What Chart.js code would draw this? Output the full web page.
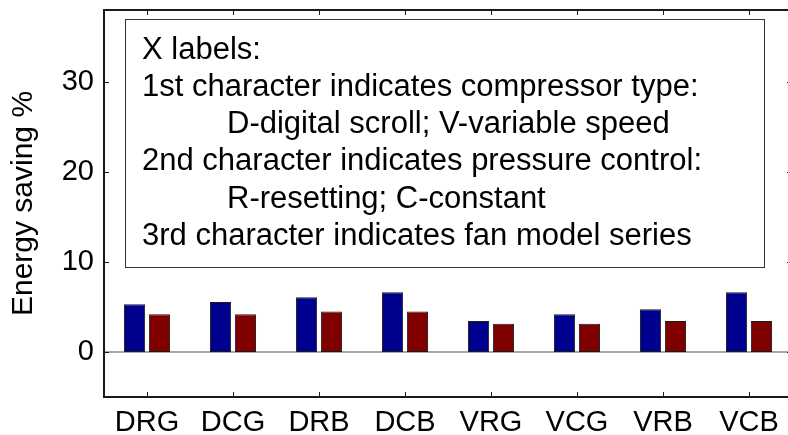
<!DOCTYPE html>
<html lang="en">
<head>
    <meta charset="utf-8">
    <script src="https://cdn.jsdelivr.net/npm/chart.js@4/dist/chart.umd.min.js"></script>
    <style>
        html, body { margin: 0; padding: 0; background: #fff; overflow: hidden; width: 788px; height: 435px; }
        .chart-container { position: relative; width: 800px; height: 435px; }
    </style>
</head>
<body>

<div class="chart-container">
    <canvas id="myChart" width="800" height="435"></canvas>
</div>

<script>
    // configurations: compressor type / pressure control / fan model series
    var categories = ["DRG", "DCG", "DRB", "DCB", "VRG", "VCG", "VRB", "VCB"];
    var seriesBlue = [5.3, 5.56, 6.08, 6.63, 3.45, 4.2, 4.75, 6.63];
    var seriesRed  = [4.2, 4.2, 4.5, 4.5, 3.15, 3.15, 3.45, 3.45];
    var yTicks = [0, 10, 20, 30];
    var yTitle = "Energy saving %";

    // lines of the explanation box (indent = second level)
    var noteLines = [
        {text: "X labels:", indent: false},
        {text: "1st character indicates compressor type:", indent: false},
        {text: "D-digital scroll; V-variable speed", indent: true},
        {text: "2nd character indicates pressure control:", indent: false},
        {text: "R-resetting; C-constant", indent: true},
        {text: "3rd character indicates fan model series", indent: false}
    ];

    var FONT = "'Liberation Sans', Arial, Helvetica, sans-serif";

    // no extra room for the outer tick labels, the plot box is fixed
    function noEdgePadding(scale) {
        scale.paddingTop = 0;
        scale.paddingBottom = 0;
        scale.paddingLeft = 0;
        scale.paddingRight = 0;
    }

    // box around the plot, inward ticks and the zero line
    var framePlugin = {
        id: 'frame',
        beforeDatasetsDraw: function(chart) {
            var ctx = chart.ctx, a = chart.chartArea;
            var y0 = chart.scales.y.getPixelForValue(0);
            ctx.save();
            ctx.strokeStyle = '#8c8c8c';
            ctx.lineWidth = 1.5;
            ctx.beginPath();
            ctx.moveTo(a.left, y0);
            ctx.lineTo(a.right, y0);
            ctx.stroke();
            ctx.restore();
        },
        afterDatasetsDraw: function(chart) {
            var ctx = chart.ctx, a = chart.chartArea;
            var xs = chart.scales.x, ys = chart.scales.y;
            ctx.save();
            ctx.strokeStyle = '#1a1a1a';
            ctx.lineWidth = 1;
            categories.forEach(function(c, i) {
                var px = Math.round(xs.getPixelForTick(i)) + 0.5;
                ctx.beginPath();
                ctx.moveTo(px, a.bottom); ctx.lineTo(px, a.bottom - 5);
                ctx.moveTo(px, a.top); ctx.lineTo(px, a.top + 5);
                ctx.stroke();
            });
            yTicks.forEach(function(v) {
                var py = Math.round(ys.getPixelForValue(v)) + 0.5;
                ctx.beginPath();
                ctx.moveTo(a.left, py); ctx.lineTo(a.left + 5, py);
                ctx.moveTo(a.right, py); ctx.lineTo(a.right - 5, py);
                ctx.stroke();
            });
            ctx.lineWidth = 2;
            ctx.strokeRect(a.left, a.top, a.right - a.left, a.bottom - a.top);

            // explanation box
            var bx = 125.5, by = 19.5, bw = 639, bh = 248;
            ctx.fillStyle = '#fff';
            ctx.fillRect(bx, by, bw, bh);
            ctx.lineWidth = 1;
            ctx.strokeStyle = '#333';
            ctx.strokeRect(bx, by, bw, bh);
            ctx.fillStyle = '#000';
            ctx.font = '31px ' + FONT;
            ctx.textAlign = 'left';
            ctx.textBaseline = 'alphabetic';
            noteLines.forEach(function(line, i) {
                ctx.fillText(line.text, line.indent ? 227 : 142, 58.5 + i * 37.3);
            });
            ctx.restore();
        }
    };

    var ctx = document.getElementById("myChart").getContext("2d");
    var myChart = new Chart(ctx, {
        type: 'bar',
        data: {
            labels: categories,
            datasets: [{
                data: seriesBlue,
                backgroundColor: '#00008f',
                borderColor: '#1a1a1a',
                borderWidth: 1,
                borderSkipped: false
            }, {
                data: seriesRed,
                backgroundColor: '#800000',
                borderColor: '#1a1a1a',
                borderWidth: 1,
                borderSkipped: false
            }]
        },
        options: {
            responsive: false,
            animation: false,
            devicePixelRatio: 1,
            datasets: {
                bar: { categoryPercentage: 0.58, barPercentage: 0.85 }
            },
            layout: { padding: { left: 0, top: 10, right: 8, bottom: 0 } },
            plugins: {
                legend: { display: false },
                tooltip: { enabled: false }
            },
            scales: {
                x: {
                    grid: { display: false, drawTicks: false },
                    border: { display: false },
                    ticks: {
                        color: '#000',
                        font: { family: FONT, size: 29 },
                        padding: 9,
                        maxRotation: 0
                    },
                    afterFit: function(scale) {
                        scale.height = 38;
                        noEdgePadding(scale);
                    }
                },
                y: {
                    min: -5,
                    max: 38,
                    grid: { display: false, drawTicks: false },
                    border: { display: false },
                    afterBuildTicks: function(scale) {
                        scale.ticks = yTicks.map(function(v) { return {value: v}; });
                    },
                    ticks: {
                        color: '#000',
                        font: { family: FONT, size: 29 },
                        padding: 10
                    },
                    title: {
                        display: true,
                        text: yTitle,
                        color: '#000',
                        font: { family: FONT, size: 30, weight: 'normal' },
                        padding: { top: 6, bottom: 0 }
                    },
                    afterFit: function(scale) {
                        scale.width = 104;
                        noEdgePadding(scale);
                    }
                }
            }
        },
        plugins: [framePlugin]
    });
</script>

</body>
</html>
